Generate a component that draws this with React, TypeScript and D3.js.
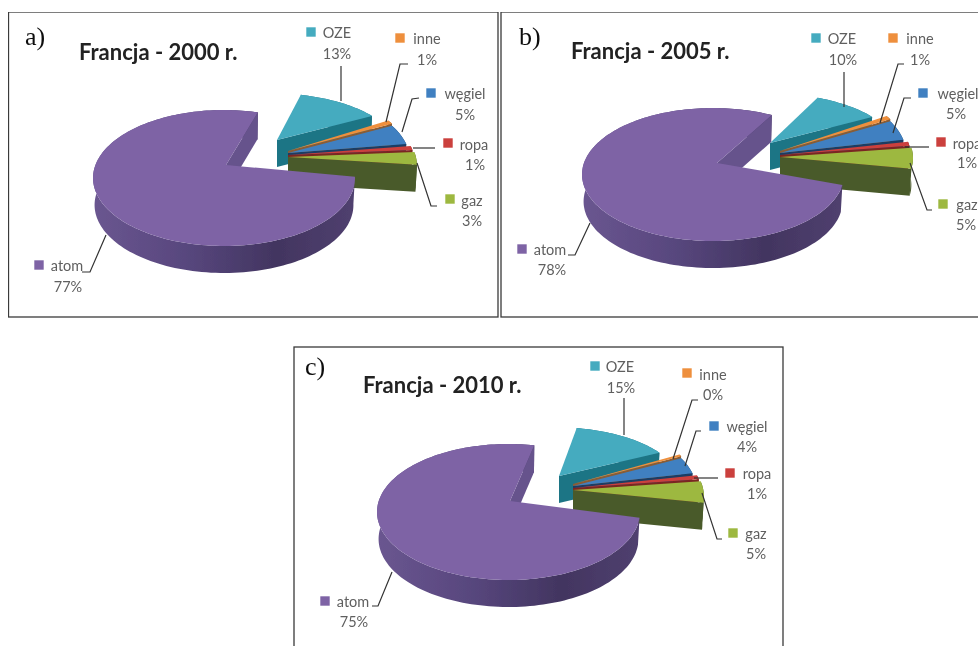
import React from "react";
import * as d3 from "d3";

// ---- data ----
const categories = ["atom", "OZE", "inne", "węgiel", "ropa", "gaz"];
const years = ["2000", "2005", "2010"];
const panelLetters = ["a)", "b)", "c)"];
const shares2000 = [77, 13, 1, 5, 1, 3];
const shares2005 = [78, 10, 1, 5, 1, 5];
const shares2010 = [75, 15, 0.5, 4, 1, 5];
const labels2000 = ["77%", "13%", "1%", "5%", "1%", "3%"];
const labels2005 = ["78%", "10%", "1%", "5%", "1%", "5%"];
const labels2010 = ["75%", "15%", "0%", "4%", "1%", "5%"];

// ---- styles ----
const topColors = ["#7e64a5", "#45abbf", "#ee8f3c", "#3f80c1", "#cb3f3c", "#9db83f"];
const wallColors = ["#4f3f70", "#1f7485", "#8a5c34", "#1b3d63", "#7a2624", "#4a5a2b"];

type Geo = { cx: number; cy: number; rx: number; ry: number; px: number; py: number; hx: number; hy: number };
type Pt = [number, number];

const DEPTH = 27;
const spreadY = [0, 0, -6, -4, -2, 0];
const spreadR = [1, 1, 0.95, 0.95, 0.985, 1];

const layouts = [
  {
    frame: [8.5, 12, 489.5, 305],
    letter: [25, 45],
    title: [79, 60],
    start: 100,
    atom: { cx: 224, cy: 178, rx: 131, ry: 68, px: 0.015, py: 0.19, hx: 226, hy: 165 },
    oze: { cx: 268, cy: 147, rx: 127, ry: 54, px: 0.015, py: 0.19, hx: 277, hy: 140 },
    rest: { cx: 287, cy: 166, rx: 130, ry: 69, px: 0.015, py: 0.19, hx: 288, hy: 157 },
    squares: [[39, 265], [311, 32], [400, 38], [431, 93], [448, 143], [450, 199]],
    names: [[67, 266], [337, 33], [427, 39], [465, 94], [474, 145], [472, 201]],
    values: [[68, 287], [337, 54], [427, 60], [465, 115], [475, 165], [472, 221]],
    leaders: [
      [[106, 235], [90, 272], [82, 272]],
      [[341, 66], [341, 101]],
      [[408, 64], [400, 64], [386, 122]],
      [[419, 98], [412, 99], [402, 132]],
      [[435, 148], [413, 148]],
      [[437, 206], [431, 206], [417, 163]],
    ],
  },
  {
    frame: [501, 12, 490, 305],
    letter: [519, 45],
    title: [571, 59],
    start: 109,
    atom: { cx: 713, cy: 174.5, rx: 131, ry: 66.5, px: 0.03, py: 0.17, hx: 717, hy: 163 },
    oze: { cx: 756, cy: 145, rx: 137, ry: 53, px: 0.03, py: 0.17, hx: 770, hy: 143 },
    rest: { cx: 777, cy: 158, rx: 136, ry: 68, px: 0.03, py: 0.17, hx: 780, hy: 157 },
    squares: [[522, 249], [816, 38], [893, 38], [923, 93], [941, 142], [943, 204]],
    names: [[550, 250], [842, 39], [920, 39], [958, 94], [967, 144], [967, 205]],
    values: [[552, 270], [843, 60], [920, 60], [956, 114], [967, 163], [966, 225]],
    leaders: [
      [[590, 223], [575, 255], [568, 255]],
      [[844, 72], [844, 107]],
      [[904, 64], [898, 64], [880, 123]],
      [[911, 98], [904, 98], [893, 133]],
      [[929, 147], [905, 147]],
      [[932, 210], [927, 210], [910, 163]],
    ],
  },
  {
    frame: [294, 347, 489, 310],
    letter: [305, 375],
    title: [363, 393],
    start: 104,
    atom: { cx: 508.5, cy: 512, rx: 131.5, ry: 68, px: 0.01, py: 0.16, hx: 510, hy: 501 },
    oze: { cx: 552, cy: 481, rx: 126, ry: 54, px: 0.01, py: 0.16, hx: 559, hy: 476 },
    rest: { cx: 574, cy: 497, rx: 130, ry: 70, px: 0.01, py: 0.16, hx: 573, hy: 490 },
    squares: [[325, 601], [595, 366], [687, 373], [714, 426], [730, 473], [733, 533]],
    names: [[353, 602], [620, 367], [713, 375], [747, 427], [757, 474], [756, 534]],
    values: [[354, 622], [621, 388], [713, 395], [747, 447], [757, 494], [756, 554]],
    leaders: [
      [[392, 572], [378, 606], [372, 606]],
      [[624, 398], [624, 435]],
      [[698, 400], [692, 400], [673, 459]],
      [[701, 431], [696, 431], [685, 466]],
      [[718, 478], [694, 478]],
      [[722, 539], [717, 539], [702, 493]],
    ],
  },
];

const sharesByPanel = [shares2000, shares2005, shares2010];
const labelsByPanel = [labels2000, labels2005, labels2010];

const LABEL_FONT = "Lato, 'Open Sans', sans-serif";
const line = d3.line<Pt>();
const leaderLine = d3.line<number[]>().x((d) => d[0]).y((d) => d[1]);

// A point on the tilted disc: the unit disc seen in perspective, so that the hub sits off the ellipse's centre.
function project(g: Geo, angle: number, dy = 0, radial = 1): Pt {
  const u = Math.sin(angle);
  const v = Math.cos(angle);
  const s = Math.hypot(g.px, g.py);
  const ex = g.px / s;
  const ey = g.py / s;
  const a = u * ex + v * ey;
  const b = -u * ey + v * ex;
  const k = 1 + s * a;
  const a2 = (a + s) / k;
  const b2 = (b * Math.sqrt(1 - s * s)) / k;
  return [g.cx + radial * g.rx * (a2 * ex - b2 * ey), g.cy - g.ry * (a2 * ey + b2 * ex) + dy];
}

function arcPoints(g: Geo, a0: number, a1: number, dy = 0, radial = 1): Pt[] {
  const n = Math.max(2, Math.ceil(Math.abs(a1 - a0) / 0.03));
  return d3.range(n + 1).map((i) => project(g, a0 + ((a1 - a0) * i) / n, dy, radial));
}

function Slice({ g, a0, a1, i, panel }: { g: Geo; a0: number; a1: number; i: number; panel: number }) {
  const dy = spreadY[i];
  const hub: Pt = [g.hx, g.hy + dy];
  const top = arcPoints(g, a0, a1, dy, spreadR[i]);
  const bottom = top.map(([x, y]) => [x - (x - g.cx) * 0.012, y + DEPTH] as Pt);
  const hubLow: Pt = [hub[0], hub[1] + DEPTH];
  const end = top[top.length - 1];
  const endLow = bottom[bottom.length - 1];
  const wallFill = i === 0 ? `url(#atomWall${panel})` : wallColors[i];
  return (
    <g>
      <path d={line([...top, ...[...bottom].reverse()])! + "Z"} fill={wallFill} />
      <path d={line([hub, end, endLow, hubLow])! + "Z"} fill={i === 0 ? "#66528c" : wallFill} />
      <path d={line([hub, ...top])! + "Z"} fill={topColors[i]} />
    </g>
  );
}

function Panel({ index }: { index: number }) {
  const L = layouts[index];
  const startRad = (L.start * Math.PI) / 180;
  const arcs = d3
    .pie<number>()
    .sort(null)
    .startAngle(startRad)
    .endAngle(startRad + 2 * Math.PI)(sharesByPanel[index]);
  const geoOf = (i: number): Geo => (i === 0 ? L.atom : i === 1 ? L.oze : L.rest);
  const drawOrder = [1, 2, 3, 4, 5, 0];
  return (
    <g>
      <defs>
        <linearGradient
          id={`atomWall${index}`}
          gradientUnits="userSpaceOnUse"
          x1={L.atom.cx - L.atom.rx}
          x2={L.atom.cx + L.atom.rx}
          y1={0}
          y2={0}
        >
          <stop offset="0" stopColor="#6a5690" />
          <stop offset="0.35" stopColor="#58477e" />
          <stop offset="0.7" stopColor="#423560" />
          <stop offset="1" stopColor="#50406f" />
        </linearGradient>
      </defs>
      <rect
        x={L.frame[0]}
        y={L.frame[1]}
        width={L.frame[2]}
        height={L.frame[3]}
        fill="#fff"
        stroke="#3a3a3a"
        strokeWidth={1.3}
      />
      {drawOrder.map((i) => (
        <Slice key={i} g={geoOf(i)} a0={arcs[i].startAngle} a1={arcs[i].endAngle} i={i} panel={index} />
      ))}
      {L.leaders.map((pts, i) => (
        <path key={i} d={leaderLine(pts)!} fill="none" stroke="#333" strokeWidth={1.2} />
      ))}
      {categories.map((c, i) => (
        <g key={c}>
          <rect x={L.squares[i][0] - 4.7} y={L.squares[i][1] - 4.7} width={9.4} height={9.4} fill={topColors[i]} />
          <text x={L.names[i][0]} y={L.names[i][1] + 5} textAnchor="middle" fontFamily={LABEL_FONT} fontSize={14.5} fill="#5f5f5f">
            {c}
          </text>
          <text x={L.values[i][0]} y={L.values[i][1] + 5} textAnchor="middle" fontFamily={LABEL_FONT} fontSize={14.5} fill="#5f5f5f">
            {labelsByPanel[index][i]}
          </text>
        </g>
      ))}
      <text x={L.letter[0]} y={L.letter[1]} fontFamily="'Liberation Serif', serif" fontSize={26} fill="#111">
        {panelLetters[index]}
      </text>
      <text x={L.title[0]} y={L.title[1]} fontFamily={LABEL_FONT} fontWeight={700} fontSize={22} fill="#222">
        {`Francja - ${years[index]} r.`}
      </text>
    </g>
  );
}

export default function App() {
  return (
    <svg
      width={978}
      height={646}
      viewBox="0 0 978 646"
      style={{ position: "absolute", left: 0, top: 0, display: "block", background: "#fff" }}
    >
      <defs>
        <filter id="soft" x="0" y="0" width="100%" height="100%">
          <feGaussianBlur stdDeviation="0.45" />
        </filter>
      </defs>
      <g filter="url(#soft)">
        {years.map((_, i) => (
          <Panel key={i} index={i} />
        ))}
      </g>
    </svg>
  );
}
